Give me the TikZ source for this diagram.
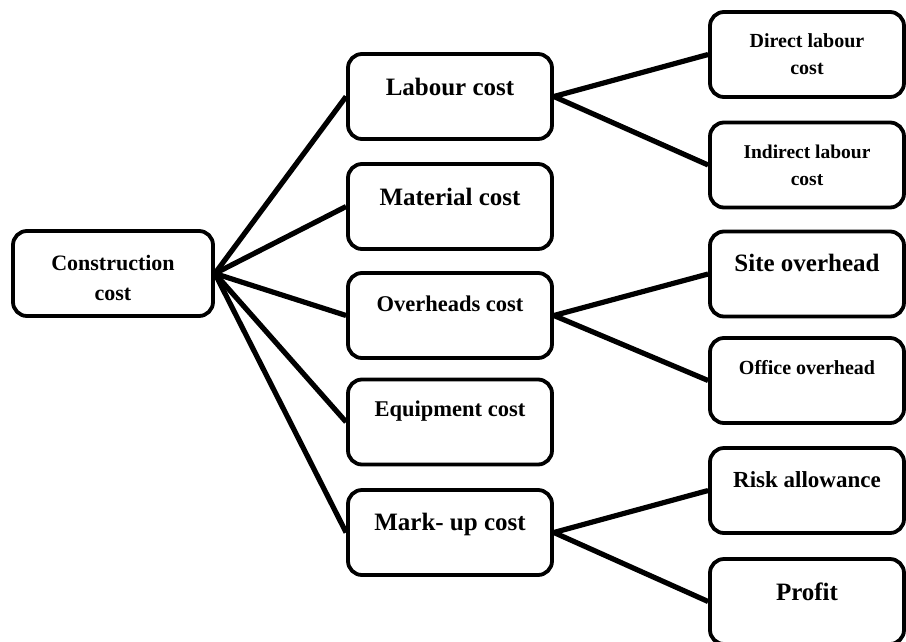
\documentclass[tikz,border=0pt]{standalone}
\usepackage{fontspec}
\setmainfont{Liberation Serif}
\begin{document}
\begin{tikzpicture}[x=1pt,y=-1pt,
  box/.style={draw, fill=white, rounded corners=14pt, line width=3.8pt,
    inner sep=0pt, align=center, minimum height=85pt},
  rootbox/.style={box, minimum width=200pt},
  midbox/.style={box, minimum width=204pt},
  leafbox/.style={box, minimum width=194pt},
  % labels sit in the upper part of the box (height = last baseline below the top)
  toptext/.style 2 args={text height=#1, text depth=#2},
  fsize/.style={font=\bfseries\fontsize{#1}{#1}\selectfont},
  link/.style={line width=5.2pt}
]
\useasboundingbox (0,0) rectangle (906,641);

% root
\node[rootbox, font=\bfseries\fontsize{22}{30}\selectfont, toptext={69pt}{16pt}] (root) at (113,273.5) {Construction\\cost};

% cost categories
\node[midbox, fsize=25, toptext={41pt}{44pt}] (labour) at (450,96.5) {Labour cost};
\node[midbox, fsize=25, toptext={41pt}{44pt}] (material) at (450,206.5) {Material cost};
\node[midbox, fsize=22.5, toptext={38pt}{47pt}] (overheads) at (450,315.5) {Overheads cost};
\node[midbox, fsize=22.5, toptext={37pt}{48pt}] (equipment) at (450,422) {Equipment cost};
\node[midbox, fsize=25, toptext={40pt}{45pt}] (markup) at (450,532.5) {Mark- up cost};

% sub-items
\node[leafbox, font=\bfseries\fontsize{20}{27}\selectfont] (direct) at (807,54.5) {Direct labour\\cost};
\node[leafbox, font=\bfseries\fontsize{19.5}{27}\selectfont] (indirect) at (807,165) {Indirect labour\\cost};
\node[leafbox, fsize=25, toptext={40pt}{45pt}] (site) at (807,274) {Site overhead};
\node[leafbox, fsize=20, toptext={36pt}{49pt}] (office) at (807,380.5) {Office overhead};
\node[leafbox, fsize=23, toptext={39pt}{46pt}] (risk) at (807,490.5) {Risk allowance};
\node[leafbox, fsize=25, toptext={41pt}{44pt}] (profit) at (807,601.5) {Profit};

% connectors
\foreach \m in {labour,material,overheads,equipment,markup}
  \draw[link] (root.east) -- (\m.west);
\draw[link] (labour.east) -- (direct.west);
\draw[link] (labour.east) -- (indirect.west);
\draw[link] (overheads.east) -- (site.west);
\draw[link] (overheads.east) -- (office.west);
\draw[link] (markup.east) -- (risk.west);
\draw[link] (markup.east) -- (profit.west);
\end{tikzpicture}
\end{document}
